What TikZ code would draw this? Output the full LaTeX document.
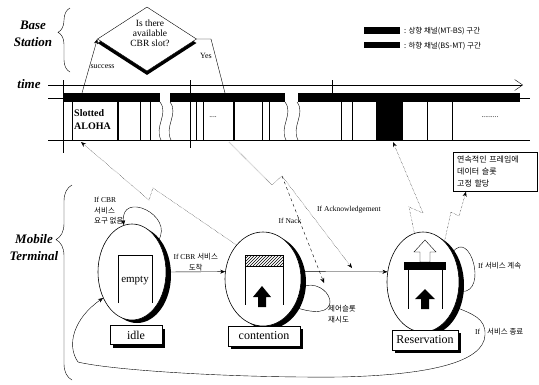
\documentclass[tikz,border=0pt]{standalone}
\usepackage{fontspec}
\setmainfont{Liberation Serif}
\newfontfamily\kr{Noto Sans CJK KR}
\usetikzlibrary{positioning, arrows.meta, shapes.geometric, shadows, patterns, decorations.pathreplacing}

\begin{document}
\begin{tikzpicture}[x=1pt, y=-1pt,
    st/.style={draw, semithick, ellipse, fill=white, inner sep=0pt,
      drop shadow={shadow xshift=5pt, shadow yshift=-3pt, opacity=1, fill=black}},
    tag/.style={draw, fill=white, inner sep=0pt, font=\fontsize{12}{14}\selectfont,
      drop shadow={shadow xshift=3pt, shadow yshift=-3pt, opacity=1, fill=black}},
    side/.style={font=\fontsize{13}{17}\selectfont\bfseries\itshape, align=center},
    note/.style={font=\fontsize{7.5}{10.5}\selectfont, align=left, inner sep=1pt},
    wl/.style={densely dotted, thin},
    arr/.style={-{Stealth[length=5pt, width=4pt]}},
    brc/.style={decorate, thin}
  ]
  \useasboundingbox (0,0) rectangle (539,384);

  % base station side
  \node[side] (bsL) at (33,34) {Base\\Station};
  \draw[brc, decoration={brace, amplitude=12pt, aspect=0.62}] (70,72) -- (70,8);
  \node[diamond, draw, fill=white, minimum width=99pt, minimum height=64pt, inner sep=0pt,
    drop shadow={shadow xshift=0pt, shadow yshift=-4pt, opacity=1, fill=black}] (dia) at (147,39) {};
  \node[font=\fontsize{9.5}{10}\selectfont, align=center] (diaT) at (150,33) {Is there\\available\\CBR slot?};

  % legend
  \fill (364,27) rectangle (400,34);
  \node[note, anchor=west, font=\fontsize{7.5}{9}\selectfont\kr] (lgUp) at (403,31) {: 상향 채널(MT-BS) 구간};
  \fill (364,42) rectangle (400,48);
  \node[note, anchor=west, font=\fontsize{7.5}{9}\selectfont\kr] (lgDn) at (403,46) {: 하향 채널(BS-MT) 구간};

  % time axis and frames
  \node[side] (tL) at (29,84) {time};
  \coordinate (ax0) at (48,85);
  \coordinate (ax1) at (523,85);
  \draw[-{Straight Barb[length=8pt, width=11pt]}] (ax0) -- (ax1);
  \draw (48,98) -- (63,98);
  \draw (520,98) -- (530,98);
  \draw (48,140) -- (530,140);
  \fill (63,93) rectangle (160,102);
  \fill (170,93) rectangle (285,102);
  \fill (298,93) rectangle (520,102);
  \fill (376,93) rectangle (403,140);
  \foreach \sx in {72,140,150,196,203,262,269,341,352,427,452}
    \draw (\sx,102) -- (\sx,140);
  \foreach \sx in {118,234}
    \draw[line width=1.6pt] (\sx,102) -- (\sx,140);
  \foreach \sx/\sa/\sb in {63/80/153,190/80/148,332/80/100}
    \draw (\sx,\sa) -- (\sx,\sb);
  \foreach \bx in {160,170,285,297}
    \draw (\bx,102) .. controls (\bx+9,114) and (\bx-6,126) .. (\bx+1,140);
  \node[font=\fontsize{10}{13}\selectfont\bfseries, align=left, anchor=west, inner sep=1pt] (aloha) at (73,120) {Slotted\\ALOHA};
  \node[note] (dotA) at (213,117) {....};
  \node[note] (dotB) at (490,117) {.........};

  % success / yes
  \coordinate (sucT) at (82,93);
  \draw[arr] (sucT) -- (dia.west) node[note, pos=0.48, right, font=\fontsize{8}{9}\selectfont] (sucL) {success};
  \coordinate (yesK) at (211,39);
  \coordinate (yesT) at (225,93);
  \draw (dia.east) -- (yesK) -- (yesT);
  \node[note, font=\fontsize{8}{9}\selectfont] (yesL) at (206,56) {Yes};

  % mobile terminal side
  \node[side] (mtL) at (34,248) {Mobile\\Terminal};
  \draw[brc, decoration={brace, amplitude=16pt, aspect=0.72}] (72,380) -- (72,185);

  % states
  \node[st, minimum width=68pt, minimum height=96pt] (idleS) at (132,272) {};
  \node[st, minimum width=76pt, minimum height=94pt] (contS) at (263,279) {};
  \node[st, minimum width=72pt, minimum height=100pt] (resS) at (423,282) {};

  \draw (118,303) -- (118,255) -- (152,255) -- (152,303);
  \node[font=\fontsize{11}{13}\selectfont] (emp) at (135,281) {empty};

  \draw[pattern=north east lines] (245,255) rectangle (283,266);
  \draw (245,266) -- (245,305);
  \draw (283,266) -- (283,305);
  \fill (258,307) -- (258,297) -- (253,297) -- (262,286) -- (271,297) -- (266,297) -- (266,307) -- cycle;

  \draw[fill=white] (420,262) -- (420,252) -- (414,252) -- (425,240) -- (436,252) -- (430,252) -- (430,262) -- cycle;
  \fill (404,262) rectangle (446,270);
  \draw (408,270) -- (408,309);
  \draw (442,270) -- (442,309);
  \fill (421,309) -- (421,299) -- (415,299) -- (425,289) -- (435,299) -- (429,299) -- (429,309) -- cycle;

  \node[tag, minimum width=52pt, minimum height=19pt] (idleL) at (136,335) {idle};
  \node[tag, minimum width=72pt, minimum height=20pt] (contL) at (264,336) {contention};
  \node[tag, minimum width=66pt, minimum height=20pt] (resL) at (425,340) {Reservation};

  % transitions
  \draw[arr] (idleS.east) -- (contS.169)
    node[note, midway, above, align=center] (arrL) {If CBR {\kr 서비스}\\{\kr 도착}};
  \draw[arr] (contS.11) -- (resS.164);
  \draw[arr] (idleS.50) .. controls (175,215) and (120,190) .. (idleS.100);
  \node[note, anchor=west] (noReq) at (93,211) {If CBR\\{\kr 서비스}\\{\kr 요구 없음}};
  \draw[arr] (contS.-12) .. controls (330,275) and (350,325) .. (contS.-42);
  \node[note, anchor=west, font=\fontsize{7.5}{10.5}\selectfont\kr] (retry) at (327,314) {제어슬롯\\재시도};
  \draw[arr] (resS.45) .. controls (470,228) and (488,292) .. (resS.-15);
  \node[note, anchor=west] (goOn) at (477,266) {If {\kr 서비스 계속}};
  \draw[arr] (resS.-38) .. controls (472,314) and (486,318) .. (485,335)
    .. controls (484,362) and (430,375) .. (340,377)
    .. controls (230,378) and (110,370) .. (78,362)
    .. controls (66,345) and (74,318) .. (idleS.222);
  \node[note, anchor=west] (stopL) at (474,332) {If\hspace{7pt}{\kr 서비스 종료}};

  % wireless links
  \coordinate (alT) at (81,142);
  \coordinate (alA) at (149,200);
  \coordinate (alB) at (153,188);
  \draw[wl, arr] (contS.128) -- (alB) -- (alA) -- (alT);

  \coordinate (nkT) at (229,142);
  \coordinate (nkA) at (272,185);
  \coordinate (nkB) at (282,176);
  \coordinate (nkE) at (324,283);
  \coordinate (akE) at (352,268);
  \draw[wl] (nkT) -- (nkA) -- (nkB);
  \draw[dashed, arr] (nkB) -- (nkE);
  \draw[wl, arr] (nkB) -- (akE);
  \node[note] (nackL) at (290,221) {If Nack};
  \node[note] (ackL) at (349,210) {If Acknowledgement};

  \coordinate (rsT) at (393,142);
  \coordinate (rsA) at (423,213);
  \coordinate (rsB) at (409,207);
  \draw[wl, arr] (resS.100) -- (rsB) -- (rsA) -- (rsT);

  \node[draw, note, anchor=north west, inner sep=4pt, text width=76pt,
    font=\fontsize{8}{12}\selectfont\kr] (fixB) at (453,152) {연속적인 프레임에\\데이터 슬롯\\고정 할당};
  \coordinate (fxA) at (451,212);
  \coordinate (fxB) at (459,216);
  \draw[wl, arr] (resS.62) -- (fxA) -- (fxB) -- (fixB.south west -| 466,0);
\end{tikzpicture}
\end{document}
